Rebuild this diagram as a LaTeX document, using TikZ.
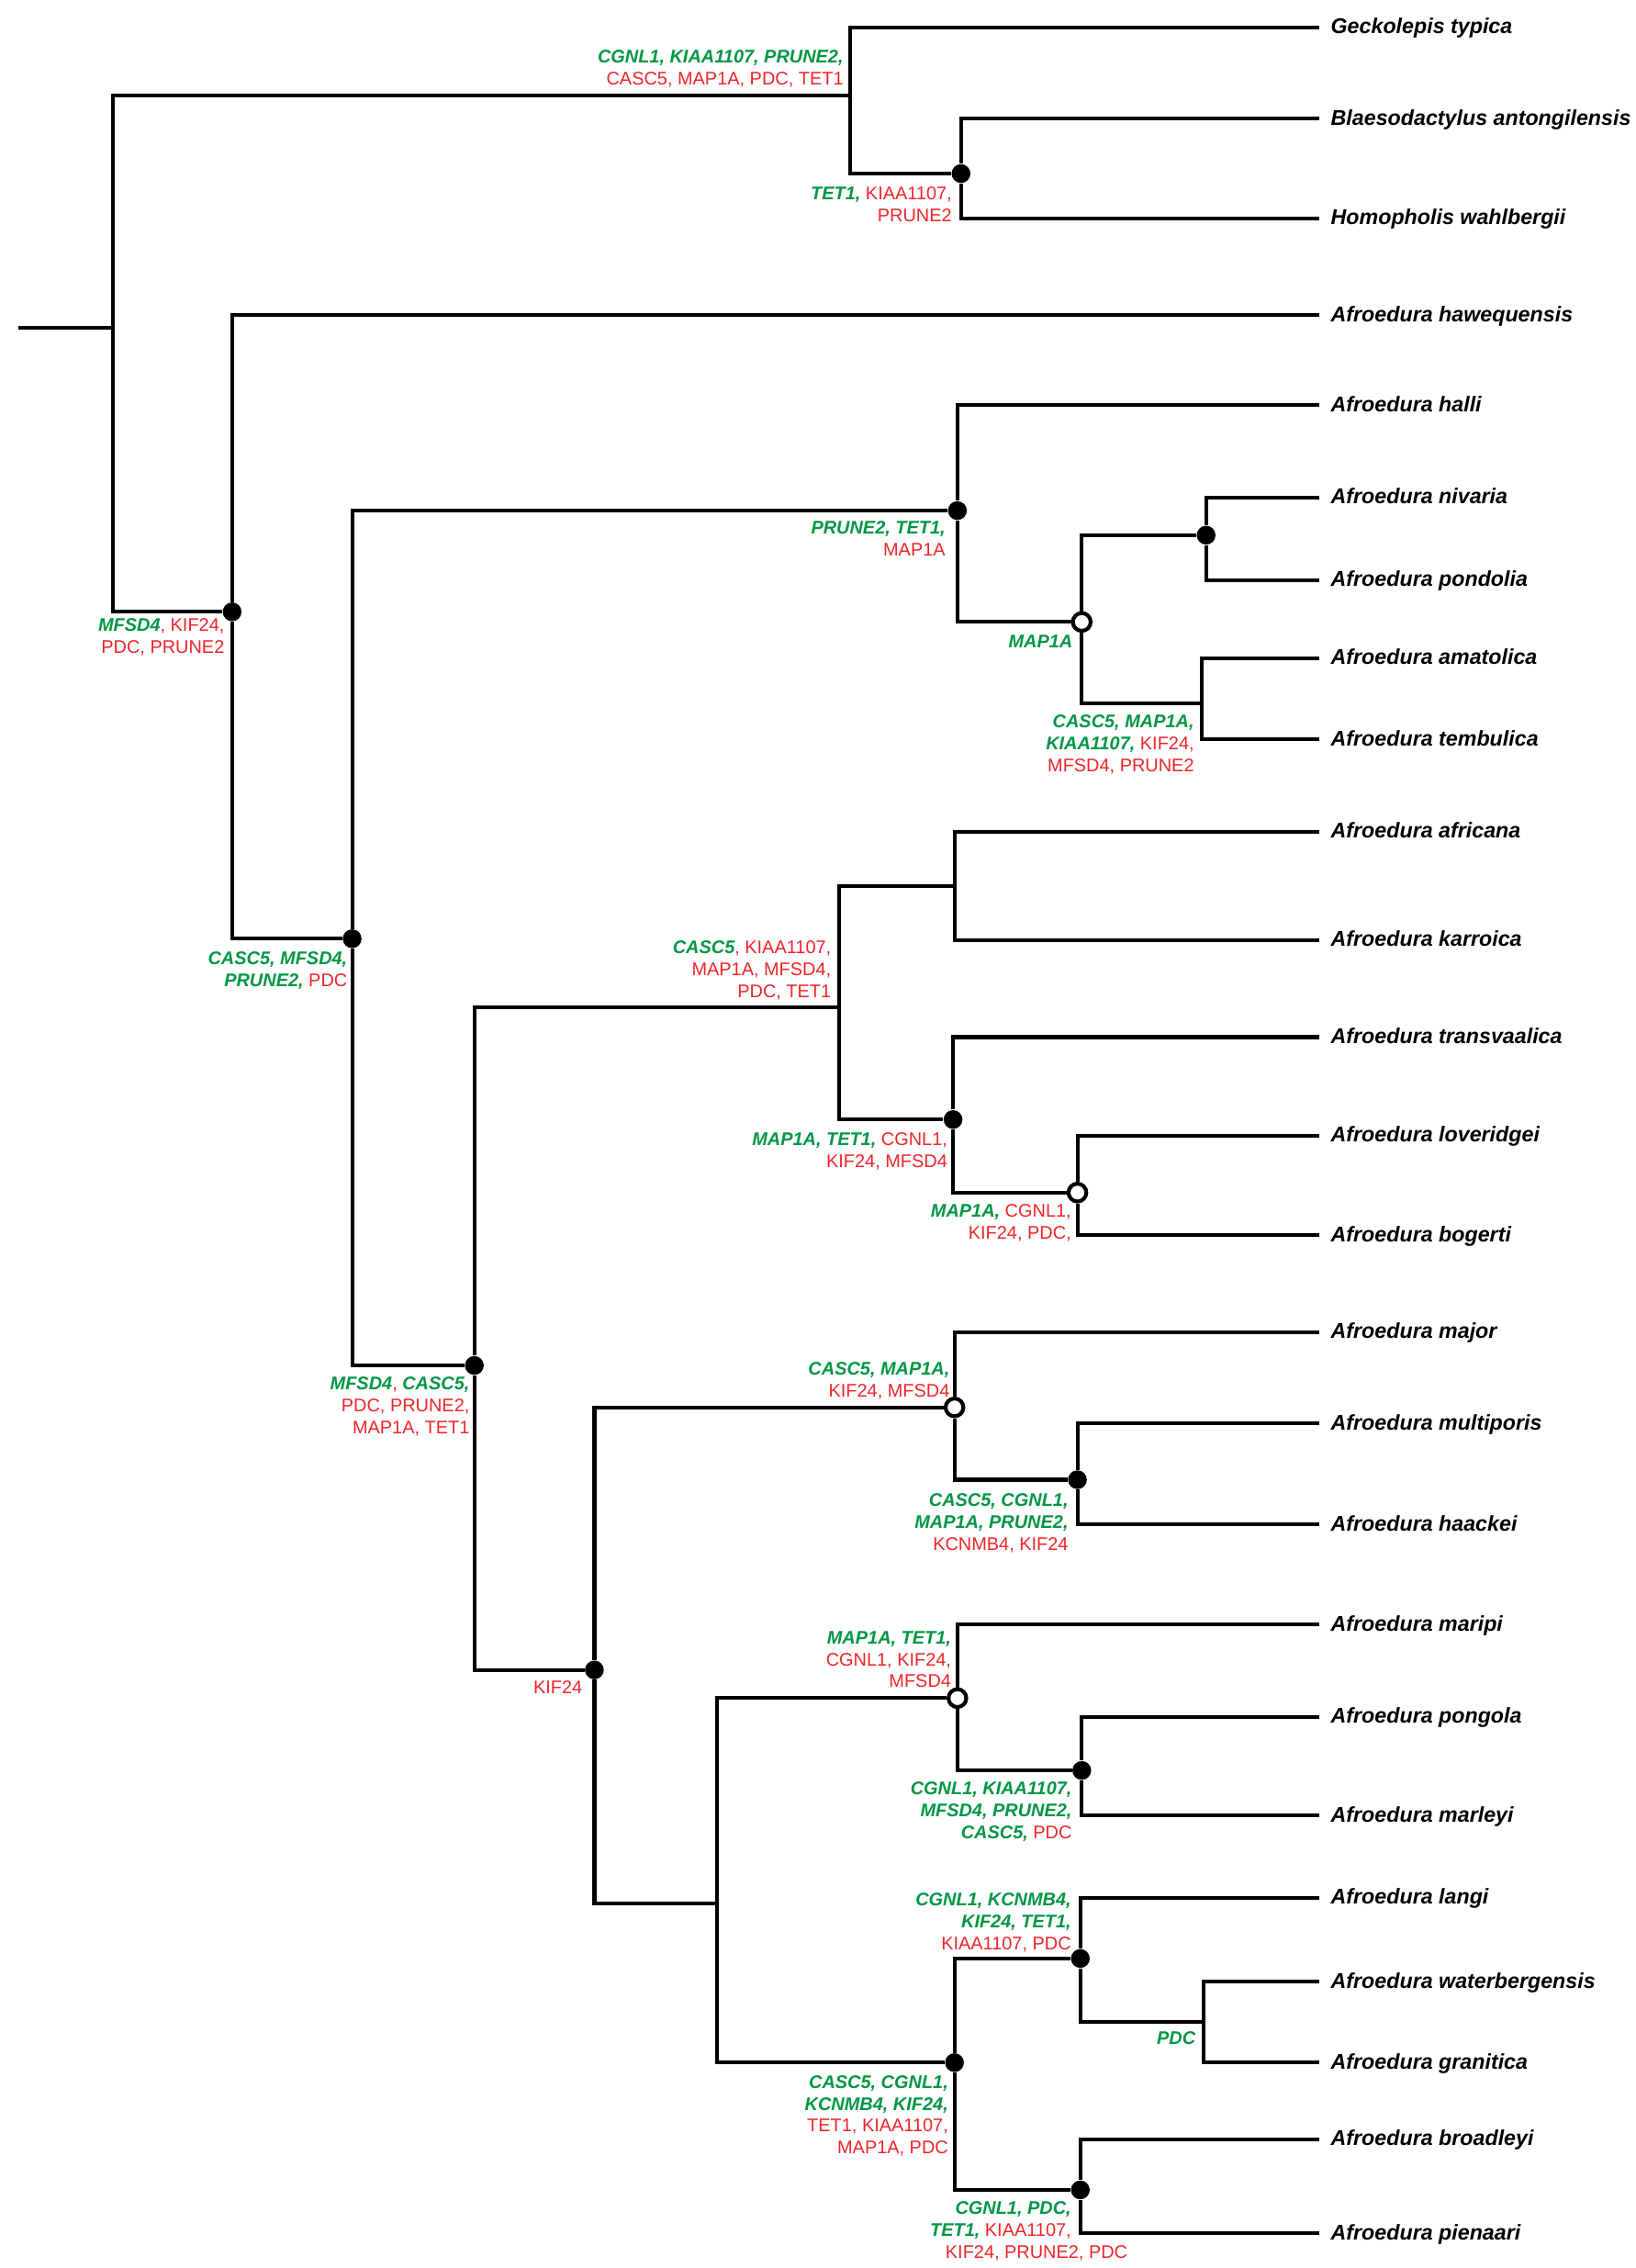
\documentclass[tikz,border=0pt]{standalone}
\usepackage{fontspec}
\setmainfont{Liberation Sans}
\usetikzlibrary{calc}

\definecolor{genegreen}{RGB}{0,150,68}
\definecolor{genered}{RGB}{238,36,42}
\newcommand{\gn}[1]{\textcolor{genegreen}{\bfseries\itshape #1}}
\newcommand{\rd}[1]{\textcolor{genered}{#1}}

\tikzset{
  branch/.style={line width=1.5pt},
  taxon/.style={anchor=west, inner xsep=4.5pt, inner ysep=0pt, text height=6pt, text depth=0.9pt,
                font=\fontsize{8.4}{10}\selectfont\bfseries\itshape},
  genes/.style={anchor=north east, inner sep=0pt, align=right, font=\fontsize{7.2}{8.6}\selectfont},
  fullnode/.style={circle, fill=black, inner sep=0pt, minimum size=7.4pt},
  opennode/.style={circle, draw, fill=white, line width=1.5pt, inner sep=0pt, minimum size=7pt}
}

\begin{document}
\begin{tikzpicture}[x=0.02cm, y=-0.02cm]
    \useasboundingbox (0,0) rectangle (1131,1568);

    % internal nodes
    \coordinate (stub) at (13,226.5);
    \coordinate (root) at (78,226.5);
    \coordinate (cgk) at (588,66);
    \node[fullnode] (bh) at (664.5,120) {};
    \node[fullnode] (afr) at (160.5,423) {};
    \node[fullnode] (core) at (243.5,649) {};
    \node[fullnode] (halC) at (662,353) {};
    \node[opennode] (nivC) at (748,430) {};
    \node[fullnode] (np) at (834,370) {};
    \coordinate (amte) at (831,486);
    \node[fullnode] (sth) at (328,944) {};
    \coordinate (akC) at (580,696.5);
    \coordinate (ak) at (660,612.5);
    \node[fullnode] (tlb) at (659,774) {};
    \node[opennode] (lb) at (745,824.5) {};
    \node[fullnode] (mjC) at (411,1154.5) {};
    \node[opennode] (mmh) at (660,973) {};
    \node[fullnode] (mh) at (745,1023) {};
    \coordinate (lowC) at (496,1316);
    \node[opennode] (mpm) at (662,1174) {};
    \node[fullnode] (pm) at (748,1224) {};
    \node[fullnode] (lwbp) at (660,1426) {};
    \node[fullnode] (lwg) at (747,1354) {};
    \coordinate (wg) at (832,1398);
    \node[fullnode] (bp) at (747,1514) {};

    % tips
    \node[taxon] (gty) at (912,19) {Geckolepis typica};
    \node[taxon] (ban) at (912,82) {Blaesodactylus antongilensis};
    \node[taxon] (hwa) at (912,151) {Homopholis wahlbergii};
    \node[taxon] (haw) at (912,218) {Afroedura hawequensis};
    \node[taxon] (hal) at (912,280) {Afroedura halli};
    \node[taxon] (niv) at (912,344) {Afroedura nivaria};
    \node[taxon] (pon) at (912,401) {Afroedura pondolia};
    \node[taxon] (ama) at (912,455) {Afroedura amatolica};
    \node[taxon] (tem) at (912,511) {Afroedura tembulica};
    \node[taxon] (afc) at (912,575) {Afroedura africana};
    \node[taxon] (kar) at (912,650) {Afroedura karroica};
    \node[taxon] (tra) at (912,717) {Afroedura transvaalica};
    \node[taxon] (lov) at (912,785) {Afroedura loveridgei};
    \node[taxon] (bog) at (912,854) {Afroedura bogerti};
    \node[taxon] (mjr) at (912,921) {Afroedura major};
    \node[taxon] (mul) at (912,984) {Afroedura multiporis};
    \node[taxon] (haa) at (912,1054) {Afroedura haackei};
    \node[taxon] (mrp) at (912,1123) {Afroedura maripi};
    \node[taxon] (png) at (912,1187) {Afroedura pongola};
    \node[taxon] (mly) at (912,1255) {Afroedura marleyi};
    \node[taxon] (lan) at (912,1312) {Afroedura langi};
    \node[taxon] (wat) at (912,1370) {Afroedura waterbergensis};
    \node[taxon] (gra) at (912,1426) {Afroedura granitica};
    \node[taxon] (bro) at (912,1479) {Afroedura broadleyi};
    \node[taxon] (pie) at (912,1544) {Afroedura pienaari};

    % branches
    \draw[branch] (stub) -- (root);
    \draw[branch] (root) |- (cgk);
    \draw[branch] (root) |- (afr);
    \draw[branch] (cgk) |- (gty.west);
    \draw[branch] (cgk) |- (bh);
    \draw[branch] (bh) |- (ban.west);
    \draw[branch] (bh) |- (hwa.west);
    \draw[branch] (afr) |- (haw.west);
    \draw[branch] (afr) |- (core);
    \draw[branch] (core) |- (halC);
    \draw[branch] (core) |- (sth);
    \draw[branch] (halC) |- (hal.west);
    \draw[branch] (halC) |- (nivC);
    \draw[branch] (nivC) |- (np);
    \draw[branch] (nivC) |- (amte);
    \draw[branch] (np) |- (niv.west);
    \draw[branch] (np) |- (pon.west);
    \draw[branch] (amte) |- (ama.west);
    \draw[branch] (amte) |- (tem.west);
    \draw[branch] (sth) |- (akC);
    \draw[branch] (sth) |- (mjC);
    \draw[branch] (akC) |- (ak);
    \draw[branch] (akC) |- (tlb);
    \draw[branch] (ak) |- (afc.west);
    \draw[branch] (ak) |- (kar.west);
    \draw[branch] (tlb) |- (tra.west);
    \draw[branch] (tlb) |- (lb);
    \draw[branch] (lb) |- (lov.west);
    \draw[branch] (lb) |- (bog.west);
    \draw[branch] (mjC) |- (mmh);
    \draw[branch] (mjC) |- (lowC);
    \draw[branch] (mmh) |- (mjr.west);
    \draw[branch] (mmh) |- (mh);
    \draw[branch] (mh) |- (mul.west);
    \draw[branch] (mh) |- (haa.west);
    \draw[branch] (lowC) |- (mpm);
    \draw[branch] (lowC) |- (lwbp);
    \draw[branch] (mpm) |- (mrp.west);
    \draw[branch] (mpm) |- (pm);
    \draw[branch] (pm) |- (png.west);
    \draw[branch] (pm) |- (mly.west);
    \draw[branch] (lwbp) |- (lwg);
    \draw[branch] (lwbp) |- (bp);
    \draw[branch] (lwg) |- (lan.west);
    \draw[branch] (lwg) |- (wg);
    \draw[branch] (wg) |- (wat.west);
    \draw[branch] (wg) |- (gra.west);
    \draw[branch] (bp) |- (bro.west);
    \draw[branch] (bp) |- (pie.west);

    % gene labels
    \node[genes] (lcgk) at ($(cgk)+(-4.5,-31.5)$) {\gn{CGNL1, KIAA1107, PRUNE2,}\\\rd{CASC5, MAP1A, PDC, TET1}};
    \node[genes] (lbh) at ($(bh)+(-6,9)$) {\gn{TET1,} \rd{KIAA1107,}\\\rd{PRUNE2}};
    \node[genes] (lafr) at ($(afr)+(-5,4.5)$) {\gn{MFSD4}\rd{, KIF24,}\\\rd{PDC, PRUNE2}};
    \node[genes] (lcore) at ($(core)+(-3,8.5)$) {\gn{CASC5, MFSD4,}\\\gn{PRUNE2,} \rd{PDC}};
    \node[genes] (lhalC) at ($(halC)+(-8,7)$) {\gn{PRUNE2, TET1,}\\\rd{MAP1A}};
    \node[genes] (lnivC) at ($(nivC)+(-6,9)$) {\gn{MAP1A}};
    \node[genes] (lamte) at ($(amte)+(-5,8)$) {\gn{CASC5, MAP1A,}\\\gn{KIAA1107,} \rd{KIF24,}\\\rd{MFSD4, PRUNE2}};
    \node[genes] (lsth) at ($(sth)+(-3,7.7)$) {\gn{MFSD4}\rd{,} \gn{CASC5,}\\\rd{PDC, PRUNE2,}\\\rd{MAP1A, TET1}};
    \node[genes] (lakC) at ($(akC)+(-5,-46.5)$) {\gn{CASC5}\rd{, KIAA1107,}\\\rd{MAP1A, MFSD4,}\\\rd{PDC, TET1}};
    \node[genes] (ltlb) at ($(tlb)+(-3.6,9)$) {\gn{MAP1A, TET1,} \rd{CGNL1,}\\\rd{KIF24, MFSD4}};
    \node[genes] (llb) at ($(lb)+(-4,8)$) {\gn{MAP1A,} \rd{CGNL1,}\\\rd{KIF24, PDC,}};
    \node[genes] (lmjC) at ($(mjC)+(-8,7)$) {\rd{KIF24}};
    \node[genes] (lmmh) at ($(mmh)+(-3,-31.5)$) {\gn{CASC5, MAP1A,}\\\rd{KIF24, MFSD4}};
    \node[genes] (lmh) at ($(mh)+(-6,9.5)$) {\gn{CASC5, CGNL1,}\\\gn{MAP1A, PRUNE2,}\\\rd{KCNMB4, KIF24}};
    \node[genes] (lmpm) at ($(mpm)+(-4,-46.5)$) {\gn{MAP1A, TET1,}\\\rd{CGNL1, KIF24,}\\\rd{MFSD4}};
    \node[genes] (lpm) at ($(pm)+(-6.5,7.5)$) {\gn{CGNL1, KIAA1107,}\\\gn{MFSD4, PRUNE2,}\\\gn{CASC5,} \rd{PDC}};
    \node[genes] (llwg) at ($(lwg)+(-6,-45.5)$) {\gn{CGNL1, KCNMB4,}\\\gn{KIF24, TET1,}\\\rd{KIAA1107, PDC}};
    \node[genes] (lwg) at ($(wg)+(-5,6)$) {\gn{PDC}};
    \node[genes] (llwbp) at ($(lwbp)+(-4,8.5)$) {\gn{CASC5, CGNL1,}\\\gn{KCNMB4, KIF24,}\\\rd{TET1, KIAA1107,}\\\rd{MAP1A, PDC}};
    \node[genes] (lbp) at ($(bp)+(-6,7.5)$) {\gn{CGNL1, PDC,}\\\gn{TET1,} \rd{KIAA1107,}};
    \node[genes] (lbpb) at ($(bp)+(33,38)$) {\rd{KIF24, PRUNE2, PDC}};
\end{tikzpicture}
\end{document}
